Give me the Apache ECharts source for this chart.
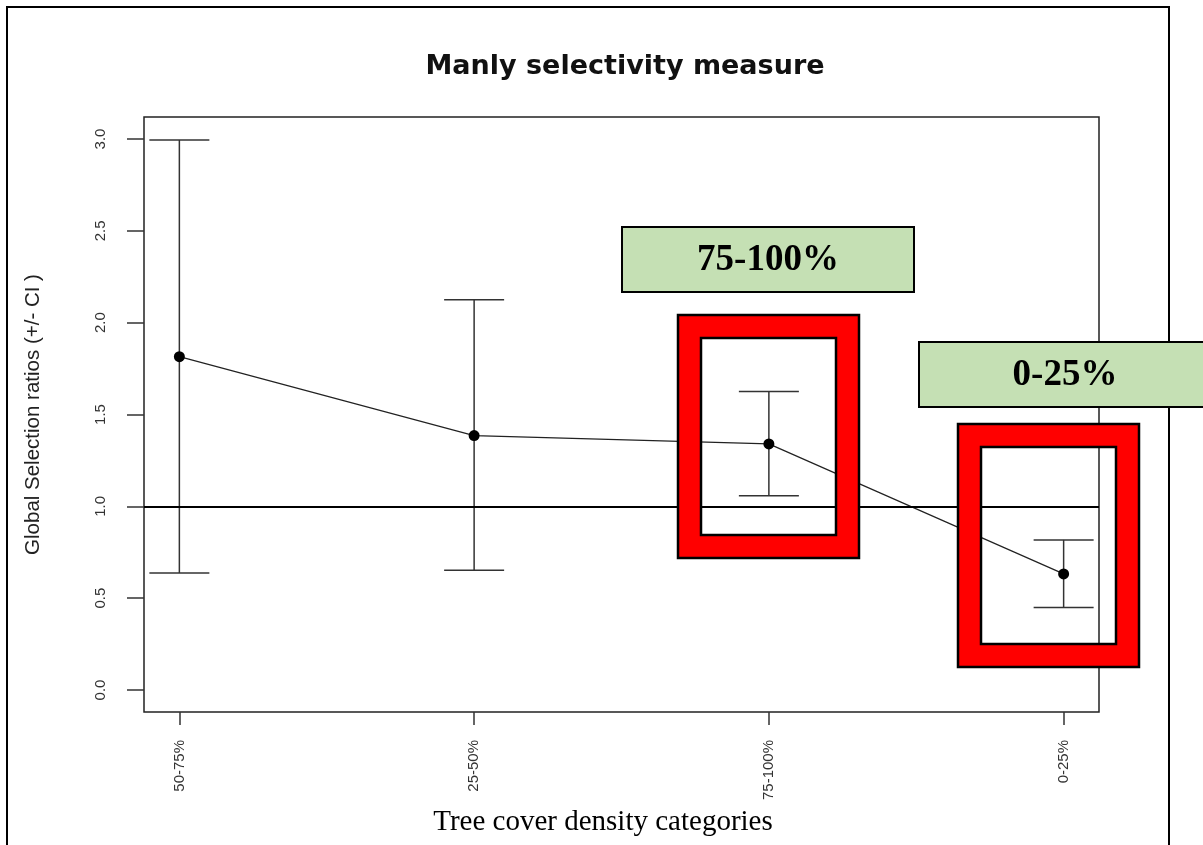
<!DOCTYPE html>
<html>
<head>
<meta charset="utf-8">
<script src="https://cdn.jsdelivr.net/npm/echarts@6/dist/echarts.min.js"></script>
<style>
html,body{margin:0;padding:0;background:#fff;}
#chart{width:1203px;height:845px;}
</style>
</head>
<body>
<div id="chart"></div>
<script>
// ---- data ----
var categories = ['50-75%', '25-50%', '75-100%', '0-25%'];
var means      = [1.815, 1.385, 1.34, 0.632];
var upperCI    = [2.995, 2.125, 1.625, 0.817];
var lowerCI    = [0.637, 0.652, 1.058, 0.449];
var yTicks     = [0, 0.5, 1, 1.5, 2, 2.5, 3];
var refValue   = 1;
var titleText  = 'Manly selectivity measure';
var yName      = 'Global Selection ratios (+/- CI )';
var xName      = 'Tree cover density categories';
var highlightLabels = ['75-100%', '0-25%'];

var xIdx = categories.map(function (c, i) { return i; });
var pointData = xIdx.map(function (i) { return [i, means[i]]; });
var ciData = xIdx.map(function (i) { return [i, lowerCI[i], upperCI[i]]; });

var chart = echarts.init(document.getElementById('chart'));

function ringBox(x0, y0, x1, y1, band) {
  return {
    type: 'group', z: 100,
    children: [
      { type: 'rect', z: 100, shape: { x: x0 + band / 2, y: y0 + band / 2, width: x1 - x0 - band, height: y1 - y0 - band },
        style: { fill: 'none', stroke: '#ff0000', lineWidth: band } },
      { type: 'rect', z: 101, shape: { x: x0, y: y0, width: x1 - x0, height: y1 - y0 },
        style: { fill: 'none', stroke: '#000', lineWidth: 2.5 } },
      { type: 'rect', z: 101, shape: { x: x0 + band, y: y0 + band, width: x1 - x0 - 2 * band, height: y1 - y0 - 2 * band },
        style: { fill: 'none', stroke: '#000', lineWidth: 2.5 } }
    ]
  };
}
function greenBox(x0, y0, w, h, label) {
  return {
    type: 'group', z: 110,
    children: [
      { type: 'rect', z: 110, shape: { x: x0, y: y0, width: w, height: h },
        style: { fill: '#c5e0b4', stroke: '#000', lineWidth: 2 } },
      { type: 'text', z: 111, style: { text: label, x: x0 + w / 2, y: y0 + h / 2 + 1, align: 'center', verticalAlign: 'middle',
        fontFamily: '"Liberation Serif", "Times New Roman", serif', fontWeight: 'bold', fontSize: 37, fill: '#000' } }
    ]
  };
}

var option = {
  backgroundColor: '#fff',
  animation: false,
  title: {
    text: titleText,
    left: 620, top: 48, textAlign: 'center',
    textStyle: { fontFamily: '"DejaVu Sans", "Liberation Sans", Arial, sans-serif', fontWeight: 'bold', fontSize: 27, color: '#111' }
  },
  grid: {
    left: 144, top: 117, right: 104, bottom: 133,
    show: true, borderColor: '#222', borderWidth: 1.5, backgroundColor: 'transparent',
    outerBoundsMode: 'none'
  },
  xAxis: {
    type: 'value', min: -0.12, max: 3.12,
    name: xName, nameLocation: 'middle', nameGap: 92,
    nameTextStyle: { fontFamily: '"Liberation Serif", "Times New Roman", serif', fontSize: 29, color: '#000', padding: [0, 37, 0, 0] },
    axisLine: { show: false, onZero: false },
    axisTick: { show: true, inside: false, length: 13, customValues: xIdx, lineStyle: { color: '#333', width: 1.5 } },
    axisLabel: {
      customValues: xIdx, rotate: 90, margin: 28,
      formatter: function (v) { return categories[Math.round(v)]; },
      fontFamily: '"Liberation Sans", Arial, sans-serif', fontSize: 15, color: '#333'
    },
    splitLine: { show: false }
  },
  yAxis: {
    type: 'value', min: -0.12, max: 3.12,
    name: yName, nameLocation: 'middle', nameGap: 100,
    nameTextStyle: { fontFamily: '"Liberation Sans", Arial, sans-serif', fontSize: 20.5, color: '#222' },
    axisLine: { show: false, onZero: false },
    axisTick: { show: true, inside: false, length: 17, customValues: yTicks, lineStyle: { color: '#333', width: 1.5 } },
    axisLabel: {
      customValues: yTicks, rotate: 90, margin: 36,
      formatter: function (v) { return v.toFixed(1); },
      fontFamily: '"Liberation Sans", Arial, sans-serif', fontSize: 15, color: '#333'
    },
    splitLine: { show: false }
  },
  series: [
    {
      type: 'custom',
      data: ciData,
      encode: { x: 0, y: [1, 2] },
      z: 3,
      renderItem: function (params, api) {
        var x = api.value(0);
        var pLo = api.coord([x, api.value(1)]);
        var pHi = api.coord([x, api.value(2)]);
        var hw = 30;
        var st = { stroke: '#333', lineWidth: 1.5 };
        return {
          type: 'group',
          children: [
            { type: 'line', shape: { x1: pHi[0], y1: pHi[1], x2: pLo[0], y2: pLo[1] }, style: st },
            { type: 'line', shape: { x1: pHi[0] - hw, y1: pHi[1], x2: pHi[0] + hw, y2: pHi[1] }, style: st },
            { type: 'line', shape: { x1: pLo[0] - hw, y1: pLo[1], x2: pLo[0] + hw, y2: pLo[1] }, style: st }
          ]
        };
      }
    },
    {
      type: 'line',
      data: pointData,
      z: 4,
      symbol: 'circle', symbolSize: 11,
      itemStyle: { color: '#000' },
      lineStyle: { color: '#222', width: 1.2 },
      markLine: {
        silent: true, symbol: 'none', label: { show: false },
        lineStyle: { color: '#000', width: 2, type: 'solid' },
        data: [{ yAxis: refValue }]
      }
    }
  ],
  graphic: [
    { type: 'rect', z: 1, shape: { x: 7, y: 7, width: 1162, height: 900 },
      style: { fill: 'none', stroke: '#000', lineWidth: 2 } },
    ringBox(678, 315, 859, 558, 23),
    ringBox(958, 424, 1139, 667, 23),
    greenBox(622, 227, 292, 65, highlightLabels[0]),
    greenBox(919, 342, 292, 65, highlightLabels[1])
  ]
};
chart.setOption(option);
</script>
</body>
</html>
